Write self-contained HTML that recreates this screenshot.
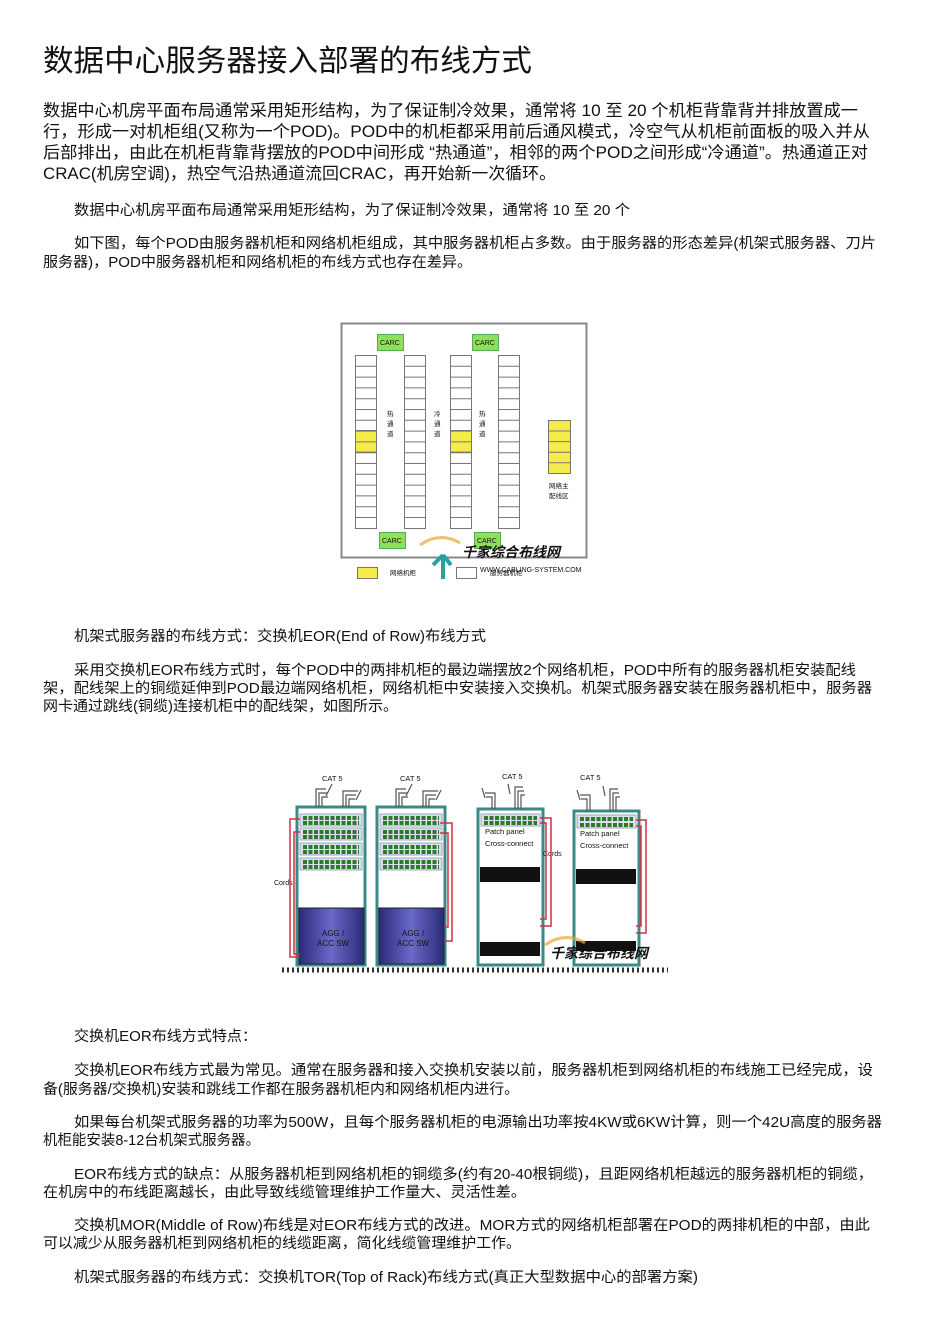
<!DOCTYPE html>
<html><head><meta charset="utf-8"><style>
body{margin:0;background:#fff;}
svg{display:block}
text{font-family:"Liberation Sans","Noto Sans CJK SC",sans-serif;fill:#111}
.p{font-size:14.5px}
.q{font-size:16.5px}
</style></head><body>
<svg width="950" height="1341" viewBox="0 0 950 1341" xmlns="http://www.w3.org/2000/svg">
<text x="43" y="71" style="font-size:30px" textLength="489" lengthAdjust="spacingAndGlyphs">数据中心服务器接入部署的布线方式</text>
<g class="q">
<text x="43" y="116" textLength="815" lengthAdjust="spacingAndGlyphs">数据中心机房平面布局通常采用矩形结构，为了保证制冷效果，通常将 10 至 20 个机柜背靠背并排放置成一</text>
<text x="43" y="137" textLength="827" lengthAdjust="spacingAndGlyphs">行，形成一对机柜组(又称为一个POD)。POD中的机柜都采用前后通风模式，冷空气从机柜前面板的吸入并从</text>
<text x="43" y="158" textLength="825" lengthAdjust="spacingAndGlyphs">后部排出，由此在机柜背靠背摆放的POD中间形成 “热通道”，相邻的两个POD之间形成“冷通道”。热通道正对</text>
<text x="43" y="179" textLength="513" lengthAdjust="spacingAndGlyphs">CRAC(机房空调)，热空气沿热通道流回CRAC，再开始新一次循环。</text>
</g>
<g class="p">
<text x="74" y="215" textLength="556" lengthAdjust="spacingAndGlyphs">数据中心机房平面布局通常采用矩形结构，为了保证制冷效果，通常将 10 至 20 个</text>
<text x="74" y="248" textLength="802" lengthAdjust="spacingAndGlyphs">如下图，每个POD由服务器机柜和网络机柜组成，其中服务器机柜占多数。由于服务器的形态差异(机架式服务器、刀片</text>
<text x="43" y="267" textLength="429" lengthAdjust="spacingAndGlyphs">服务器)，POD中服务器机柜和网络机柜的布线方式也存在差异。</text>
<text x="74" y="641" textLength="412" lengthAdjust="spacingAndGlyphs">机架式服务器的布线方式：交换机EOR(End of Row)布线方式</text>
<text x="74" y="675" textLength="782" lengthAdjust="spacingAndGlyphs">采用交换机EOR布线方式时，每个POD中的两排机柜的最边端摆放2个网络机柜，POD中所有的服务器机柜安装配线</text>
<text x="43" y="693" textLength="829" lengthAdjust="spacingAndGlyphs">架，配线架上的铜缆延伸到POD最边端网络机柜，网络机柜中安装接入交换机。机架式服务器安装在服务器机柜中，服务器</text>
<text x="43" y="711" textLength="355" lengthAdjust="spacingAndGlyphs">网卡通过跳线(铜缆)连接机柜中的配线架，如图所示。</text>
<text x="74" y="1041" textLength="183" lengthAdjust="spacingAndGlyphs">交换机EOR布线方式特点：</text>
<text x="74" y="1075" textLength="799" lengthAdjust="spacingAndGlyphs">交换机EOR布线方式最为常见。通常在服务器和接入交换机安装以前，服务器机柜到网络机柜的布线施工已经完成，设</text>
<text x="43" y="1094" textLength="476" lengthAdjust="spacingAndGlyphs">备(服务器/交换机)安装和跳线工作都在服务器机柜内和网络机柜内进行。</text>
<text x="74" y="1127" textLength="808" lengthAdjust="spacingAndGlyphs">如果每台机架式服务器的功率为500W，且每个服务器机柜的电源输出功率按4KW或6KW计算，则一个42U高度的服务器</text>
<text x="43" y="1145" textLength="217" lengthAdjust="spacingAndGlyphs">机柜能安装8-12台机架式服务器。</text>
<text x="74" y="1179" textLength="799" lengthAdjust="spacingAndGlyphs">EOR布线方式的缺点：从服务器机柜到网络机柜的铜缆多(约有20-40根铜缆)，且距网络机柜越远的服务器机柜的铜缆，</text>
<text x="43" y="1197" textLength="483" lengthAdjust="spacingAndGlyphs">在机房中的布线距离越长，由此导致线缆管理维护工作量大、灵活性差。</text>
<text x="74" y="1230" textLength="796" lengthAdjust="spacingAndGlyphs">交换机MOR(Middle of Row)布线是对EOR布线方式的改进。MOR方式的网络机柜部署在POD的两排机柜的中部，由此</text>
<text x="43" y="1248" textLength="478" lengthAdjust="spacingAndGlyphs">可以减少从服务器机柜到网络机柜的线缆距离，简化线缆管理维护工作。</text>
<text x="74" y="1282" textLength="624" lengthAdjust="spacingAndGlyphs">机架式服务器的布线方式：交换机TOR(Top of Rack)布线方式(真正大型数据中心的部署方案)</text>
</g>

<!-- Diagram 1 -->
<g stroke="#666" stroke-width="1">
<rect x="341.5" y="323.5" width="245" height="234" fill="none" stroke="#888" stroke-width="2"/>
</g>
<g id="cols" stroke="#777" stroke-width="1" fill="#fff">
<path d="M355.5 355.5h21v173h-21z M404.5 355.5h21v173h-21z M450.5 355.5h21v173h-21z M498.5 355.5h21v173h-21z"/>
</g>
<g fill="#f5ec4a" stroke="#777">
<rect x="355.5" y="430.5" width="21" height="21.6"/>
<rect x="450.5" y="430.5" width="21" height="21.6"/>
<rect x="548.5" y="420.5" width="22" height="53"/>
</g>
<g stroke="#777" stroke-width="1">
<path d="M355 366.3h21M355 377.1h21M355 387.9h21M355 398.7h21M355 409.5h21M355 420.3h21M355 431.1h21M355 441.9h21M355 452.7h21M355 463.5h21M355 474.3h21M355 485.1h21M355 495.9h21M355 506.7h21M355 517.5h21"/>
<path d="M404 366.3h21M404 377.1h21M404 387.9h21M404 398.7h21M404 409.5h21M404 420.3h21M404 431.1h21M404 441.9h21M404 452.7h21M404 463.5h21M404 474.3h21M404 485.1h21M404 495.9h21M404 506.7h21M404 517.5h21"/>
<path d="M450 366.3h21M450 377.1h21M450 387.9h21M450 398.7h21M450 409.5h21M450 420.3h21M450 431.1h21M450 441.9h21M450 452.7h21M450 463.5h21M450 474.3h21M450 485.1h21M450 495.9h21M450 506.7h21M450 517.5h21"/>
<path d="M498 366.3h21M498 377.1h21M498 387.9h21M498 398.7h21M498 409.5h21M498 420.3h21M498 431.1h21M498 441.9h21M498 452.7h21M498 463.5h21M498 474.3h21M498 485.1h21M498 495.9h21M498 506.7h21M498 517.5h21"/>
<path d="M548 431h22M548 441.6h22M548 452.2h22M548 462.8h22"/>
</g>
<g fill="#8ee05a" stroke="#5a5">
<rect x="377.5" y="334.5" width="26" height="16"/>
<rect x="472.5" y="334.5" width="26" height="16"/>
<rect x="379.5" y="532.5" width="26" height="16"/>
<rect x="474.5" y="532.5" width="26" height="16"/>
</g>
<g style="font-size:7px">
<text x="380" y="345">CARC</text><text x="475" y="345">CARC</text>
<text x="382" y="543">CARC</text><text x="477" y="543">CARC</text>
</g>
<g style="font-size:6.5px" fill="#333">
<text x="387" y="416">热</text><text x="387" y="426">通</text><text x="387" y="436">道</text>
<text x="434" y="416">冷</text><text x="434" y="426">通</text><text x="434" y="436">道</text>
<text x="479" y="416">热</text><text x="479" y="426">通</text><text x="479" y="436">道</text>
<text x="549" y="488">网络主</text><text x="549" y="498">配线区</text>
<text x="390" y="575">网络机柜</text><text x="490" y="575">服务器机柜</text>
</g>
<rect x="357.5" y="567.5" width="20" height="11" fill="#f5ec4a" stroke="#777"/>
<rect x="456.5" y="567.5" width="20" height="11" fill="#fff" stroke="#777"/>
<path d="M420 545 q20 -14 40 -2" fill="none" stroke="#f0a030" stroke-width="3" opacity="0.7"/>
<path d="M443 555 l-10 10 M443 555 l8 10 M443 555 v24" stroke="#2aa0a0" stroke-width="4" fill="none"/>
<text x="462" y="557" style="font-size:14px;font-style:italic;font-weight:bold" fill="#1a8fd0">千家综合布线网</text>
<text x="480" y="572" style="font-size:7px" fill="#aaa">WWW.CABLING-SYSTEM.COM</text>

<!-- Diagram 2 -->
<g>
<!-- racks -->
<rect x="297" y="807" width="68" height="158" fill="#fff" stroke="#3a8a8a" stroke-width="3"/>
<rect x="377" y="807" width="68" height="158" fill="#fff" stroke="#3a8a8a" stroke-width="3"/>
<rect x="478" y="809" width="65" height="156" fill="#fff" stroke="#3a8a8a" stroke-width="3"/>
<rect x="574" y="811" width="65" height="154" fill="#fff" stroke="#3a8a8a" stroke-width="3"/>
<g fill="#dde" stroke="#9ab">
<rect x="300" y="814" width="62" height="12"/><rect x="300" y="828" width="62" height="12"/><rect x="300" y="843" width="62" height="12"/><rect x="300" y="858" width="62" height="12"/>
<rect x="380" y="814" width="62" height="12"/><rect x="380" y="828" width="62" height="12"/><rect x="380" y="843" width="62" height="12"/><rect x="380" y="858" width="62" height="12"/>
<rect x="481" y="814" width="59" height="12"/>
<rect x="577" y="815" width="59" height="13"/>
</g>
<g stroke="#2a7a2a" stroke-width="4" stroke-dasharray="4 1.5">
<path d="M303 818h56M303 823h56M303 832h56M303 837h56M303 847h56M303 852h56M303 862h56M303 867h56"/>
<path d="M383 818h56M383 823h56M383 832h56M383 837h56M383 847h56M383 852h56M383 862h56M383 867h56"/>
<path d="M484 818h53M484 823h53M580 819h53M580 825h53"/>
</g>
<defs><linearGradient id="g" x1="0" x2="1"><stop offset="0" stop-color="#2a2a7a"/><stop offset="0.5" stop-color="#6a6ac8"/><stop offset="1" stop-color="#2a2a7a"/></linearGradient></defs>
<rect x="299" y="908" width="65" height="56" fill="url(#g)" stroke="#222"/>
<rect x="379" y="908" width="65" height="56" fill="url(#g)" stroke="#222"/>
<g style="font-size:8px" fill="#fff"><text x="322" y="936" fill="#fff">AGG /</text><text x="317" y="946" fill="#fff">ACC SW</text>
<text x="402" y="936" fill="#fff">AGG /</text><text x="397" y="946" fill="#fff">ACC SW</text></g>
<rect x="480" y="867" width="60" height="15" fill="#111"/>
<rect x="576" y="869" width="60" height="15" fill="#111"/>
<rect x="480" y="942" width="60" height="14" fill="#111"/>
<rect x="576" y="941" width="60" height="10" fill="#111"/>
<text x="496" y="878" style="font-size:8px" fill="#fff">Server</text>
<text x="592" y="880" style="font-size:8px" fill="#fff">Server</text>
<g style="font-size:7.5px"><text x="485" y="834">Patch panel</text><text x="485" y="846">Cross-connect</text>
<text x="580" y="836">Patch panel</text><text x="580" y="848">Cross-connect</text></g>
<text x="543" y="856" style="font-size:7px" fill="#336">Cords</text>
<text x="274" y="885" style="font-size:7px" fill="#336">Cords</text>
<g fill="none" stroke="#d03040" stroke-width="1.5">
<path d="M300 819h-10v138h10M300 832h-6v122h6"/>
<path d="M440 823h12v118h-8M440 833h8v94h-4"/>
<path d="M540 818h11v108h-11M540 823h6v96h-6"/>
<path d="M636 820h10v113h-10M636 826h5v100h-5"/>
</g>
<g fill="none" stroke="#555" stroke-width="1.2">
<path d="M316 807v-18h10M319 807v-14h8M322 807v-10h6M343 807v-16h15M346 807v-12h10M349 807v-8h6"/>
<path d="M396 807v-18h10M399 807v-14h8M402 807v-10h6M423 807v-16h15M426 807v-12h10M429 807v-8h6"/>
<path d="M495 809v-16h-10M492 809v-12h-6M515 809v-22h8M518 809v-18h6M521 809v-14h4"/>
<path d="M590 811v-16h-10M587 811v-12h-6M610 811v-22h8M613 811v-18h6M616 811v-14h4"/>
<path d="M326 796l6-12M356 800l5-10M406 796l6-12M436 800l5-10M485 798l-3-10M510 794l-2-10M580 800l-3-10M605 796l-2-10"/>
</g>
<g style="font-size:7.5px"><text x="322" y="781">CAT 5</text><text x="400" y="781">CAT 5</text><text x="502" y="779">CAT 5</text><text x="580" y="780">CAT 5</text></g>
<path d="M282 970h386" stroke="#333" stroke-width="5" stroke-dasharray="2 3"/>
<path d="M545 945 q20 -14 40 -2" fill="none" stroke="#f0a030" stroke-width="3" opacity="0.7"/>
<text x="550" y="958" style="font-size:14px;font-style:italic;font-weight:bold" fill="#1a8fd0">千家综合布线网</text>
</g>
</svg>
</body></html>
